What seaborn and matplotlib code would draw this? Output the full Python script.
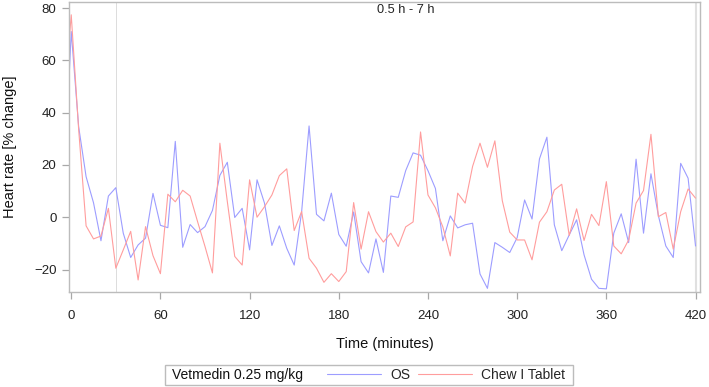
import numpy as np
import pandas as pd
import matplotlib
matplotlib.use('Agg')
import matplotlib.pyplot as plt
import matplotlib.patches as patches
import seaborn as sns

# time points (minutes): baseline just before dosing, then every 5 min
time_min = [-1.5] + list(range(0, 425, 5))

# heart rate, % change from baseline
os_hr = [52.5, 71, 34.6, 15.5, 5.5, -9, 8.1, 11.3, -6.1, -15.4,
         -10.6, -8, 9.1, -3.1, -4, 29, -11.5, -2.8, -5.9, -3.6,
         2.6, 16, 21, -0.1, 3.4, -12.5, 14.3, 5.4, -10.8, -3.3,
         -11.9, -18.3, 2.1, 34.9, 1.1, -1.4, 9.2, -6.6, -11.1, 2,
         -17, -21.3, -8.3, -21.1, 8.1, 7.6, 17.8, 24.6, 23.7, 17.8,
         11, -9, 0.5, -4.1, -2.9, -2.3, -21.7, -27.2, -9.7, -11.5,
         -13.5, -7.8, 6.6, -0.7, 22.3, 30.6, -2.9, -12.8, -6.8, -1,
         -14.4, -23.7, -27.2, -27.4, -6.1, 1.3, -9.7, 22.2, -6.1, 16.6,
         0.6, -11, -15.4, 20.6, 14.9, -11]
chew_hr = [66.8, 77.4, 33.5, -3.3, -8.3, -7.2, 3.4, -19.5, -12.5, -5.4,
           -24, -3.6, -14.7, -21.6, 8.8, 5.9, 10.3, 8.1, -1.7, -11.2,
           -21.3, 28.3, 6, -15, -18.3, 14.3, 0, 4, 8.5, 15.9,
           18.5, -5.1, 2.2, -15.7, -19.5, -24.9, -21.6, -24.6, -20.8, 5.6,
           -12.2, 2.1, -5.5, -9.5, -6.1, -11.2, -3.7, -1.8, 32.6, 8.5,
           3.6, -3.7, -14.8, 9.2, 5.4, 19.4, 28.3, 19.1, 29.2, 6.3,
           -5.7, -8.7, -8.7, -16.3, -1.9, 2.1, 10.4, 12.6, -7, 3.2,
           -8.9, 1.1, -3.2, 13.6, -11, -14, -8.7, 5.4, 10.2, 31.7,
           0.2, 1.8, -12.2, 2.1, 10.8, 7.3]

series_names = ['OS', 'Chew I Tablet']
series_colors = ['#9d9dff', '#ff9d9d']
x_ticks = [0, 60, 120, 180, 240, 300, 360, 420]
y_ticks = [-20, 0, 20, 40, 60, 80]

df = pd.DataFrame({
    'time': time_min * 2,
    'hr': os_hr + chew_hr,
    'group': [series_names[0]] * len(time_min) + [series_names[1]] * len(time_min),
})

sns.set_theme(style='white')
plt.rcParams['font.family'] = ['Liberation Sans', 'DejaVu Sans']

fig = plt.figure(figsize=(7.09, 3.87), dpi=100)
ax = fig.add_axes([69 / 709, 1 - 292 / 387, 631 / 709, 290 / 387])

# reference lines for the 0.5 h - 7 h window
ax.axvline(30, color='#dcdcdc', lw=0.7, zorder=1)
ax.axvline(420, color='#e0e0e0', lw=1.5, zorder=1)

sns.lineplot(data=df, x='time', y='hr', hue='group', palette=series_colors,
             hue_order=series_names, lw=0.8, legend=False, ax=ax,
             estimator=None, sort=False)

ax.set_xlim(-1.5, 423)
ax.set_ylim(-28.6, 82.3)
ax.set_xticks(x_ticks)
ax.set_yticks(y_ticks)
ax.tick_params(axis='both', direction='out', length=5, width=0.9,
               color='#a8a8a8', labelsize=9.5, labelcolor='#222222')
ax.tick_params(axis='x', pad=8)
ax.tick_params(axis='y', pad=4)
ax.tick_params(bottom=True, left=True)
for sp in ax.spines.values():
    sp.set_color('#bcbcbc')
    sp.set_linewidth(1.0)

ax.set_xlabel('Time (minutes)', fontsize=10.5, color='#111111', labelpad=11)
ax.set_ylabel('Heart rate [% change]', fontsize=10.5, color='#111111', labelpad=12)
ax.text(225, 0.972, '0.5 h - 7 h', transform=ax.get_xaxis_transform(),
        ha='center', va='center', fontsize=9.2, color='#222222')

# legend strip at the bottom
box_y = 1 - 375 / 387
fig.add_artist(patches.Rectangle((165 / 709, 1 - 385 / 387), 408 / 709, 20 / 387,
                                 transform=fig.transFigure, fill=False,
                                 edgecolor='#bcbcbc', lw=1.0))
fig.text(172 / 709, box_y, 'Vetmedin 0.25 mg/kg', ha='left', va='center',
         fontsize=10, color='#111111')
handles = [plt.Line2D([], [], color=c, lw=0.8) for c in series_colors]
fig.legend(handles, series_names, loc='center left',
           bbox_to_anchor=(327 / 709, box_y), ncol=2, frameon=False,
           fontsize=10, handlelength=3.9, handletextpad=0.65,
           columnspacing=0.58, borderpad=0, borderaxespad=0)

fig.savefig('out.png', dpi=100)
